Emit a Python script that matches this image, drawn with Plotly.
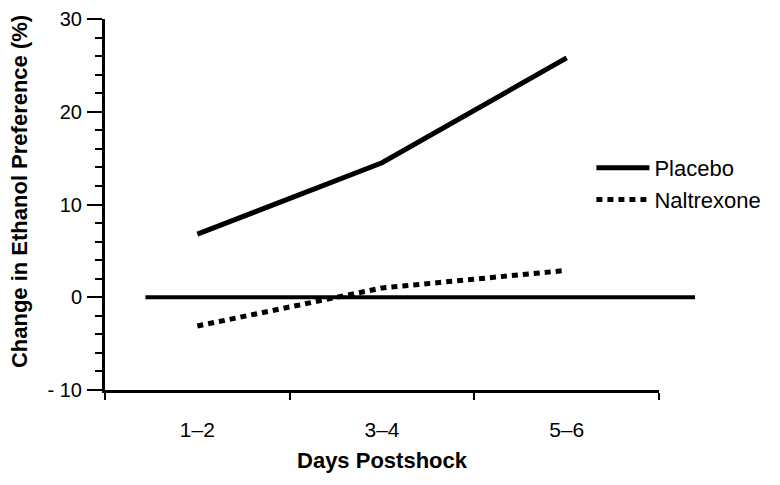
import plotly.graph_objects as go

days = ["1–2", "3–4", "5–6"]
placebo = [6.8, 14.5, 25.8]
naltrexone = [-3.1, 1.0, 2.9]
y_ticks = [-10, 0, 10, 20, 30]
y_tick_text = ["- 10", "0", "10", "20", "30"]
baseline = 0

FONT = "Liberation Sans, Arial, sans-serif"

fig = go.Figure()
fig.add_trace(go.Scatter(
    x=days, y=placebo, mode="lines", name="Placebo",
    line=dict(color="black", width=5),
))
fig.add_trace(go.Scatter(
    x=days, y=naltrexone, mode="lines", name="Naltrexone",
    line=dict(color="black", width=5, dash="6px,5px"),
))

fig.add_shape(type="line", xref="paper", yref="y",
              x0=0.073, x1=1.065, y0=baseline, y1=baseline,
              line=dict(color="black", width=4), layer="below")

fig.add_annotation(
    text="<b>Change in Ethanol Preference (%)</b>", textangle=-90,
    xref="paper", yref="paper", x=-0.153, y=0.534, xanchor="center", yanchor="middle",
    showarrow=False, font=dict(size=22, family=FONT, color="black"),
)

fig.update_layout(
    width=780, height=485,
    margin=dict(l=97, r=129, t=11, b=103),
    plot_bgcolor="white", paper_bgcolor="white",
    font=dict(family=FONT, color="black", size=20),
    showlegend=True,
    legend=dict(x=0.878, y=0.655, xanchor="left", yanchor="top",
                font=dict(size=22, family=FONT), bgcolor="rgba(0,0,0,0)",
                itemwidth=53, tracegroupgap=0),
    xaxis=dict(
        type="category", range=[-0.5, 2.5], automargin=False,
        showline=True, linecolor="black", linewidth=3,
        ticks="outside", tickson="boundaries", ticklen=7, tickwidth=2, tickcolor="black",
        tickfont=dict(size=21, family=FONT), ticklabelstandoff=19,
        showgrid=False, zeroline=False,
        title=dict(text="<b>Days Postshock</b>", font=dict(size=22, family=FONT), standoff=13),
    ),
    yaxis=dict(
        range=[-10, 30], tickmode="array", tickvals=y_ticks, ticktext=y_tick_text,
        automargin=False,
        showline=True, linecolor="black", linewidth=3,
        ticks="outside", ticklen=15, tickwidth=2, tickcolor="black",
        tickfont=dict(size=20, family=FONT), ticklabelstandoff=1,
        minor=dict(dtick=2, tick0=0, ticks="outside", ticklen=7, tickwidth=2, tickcolor="black", showgrid=False),
        showgrid=False, zeroline=False,
    ),
)

fig.write_html("out.html")
